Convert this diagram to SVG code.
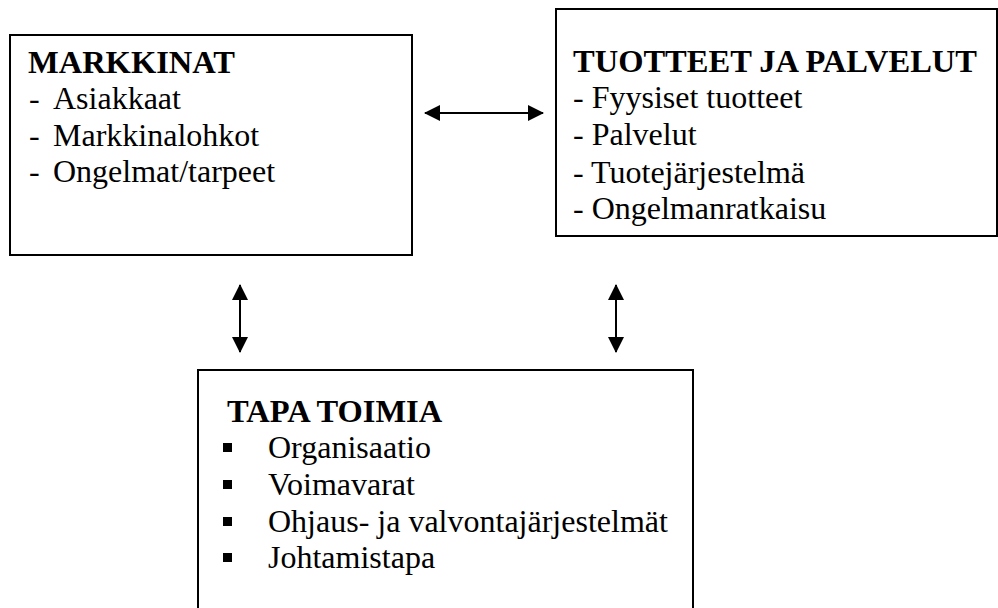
<svg xmlns="http://www.w3.org/2000/svg" width="998" height="608" viewBox="0 0 998 608">
<style>
.box{fill:#fff;stroke:#000;stroke-width:2}
.t{font-family:"Liberation Serif","Times New Roman",serif;font-size:32px;fill:#000}
.h{font-weight:bold;font-size:32.5px}
.c{stroke:#000;stroke-width:2;fill:none;marker-start:url(#ah);marker-end:url(#ah)}
</style>
<defs>
<marker id="ah" viewBox="0 0 16 16" refX="15" refY="8" markerWidth="16" markerHeight="16" markerUnits="userSpaceOnUse" orient="auto-start-reverse">
<path d="M0,0 L16,8 L0,16 Z" fill="#000"/>
</marker>
</defs>
<rect width="998" height="608" fill="#fff"/>
<g id="markkinat">
<rect class="box" x="10" y="35" width="402" height="220"/>
<text class="t h" x="28" y="73">MARKKINAT</text>
<text class="t" x="29" y="109">-<tspan x="53">Asiakkaat</tspan></text>
<text class="t" x="29" y="146">-<tspan x="53">Markkinalohkot</tspan></text>
<text class="t" x="29" y="182">-<tspan x="53">Ongelmat/tarpeet</tspan></text>
</g>
<g id="tuotteet">
<rect class="box" x="556" y="9" width="441" height="227"/>
<text class="t h" x="573" y="72">TUOTTEET JA PALVELUT</text>
<text class="t" x="573" y="108">- Fyysiset tuotteet</text>
<text class="t" x="573" y="145">- Palvelut</text>
<text class="t" x="573" y="183">- Tuotejärjestelmä</text>
<text class="t" x="573" y="219">- Ongelmanratkaisu</text>
</g>
<g id="tapa">
<rect class="box" x="198" y="370" width="495" height="250"/>
<text class="t h" x="227" y="422">TAPA TOIMIA</text>
<rect x="223" y="443" width="9" height="9"/>
<rect x="223" y="480" width="9" height="9"/>
<rect x="223" y="517" width="9" height="9"/>
<rect x="223" y="553" width="9" height="9"/>
<text class="t" x="268" y="458">Organisaatio</text>
<text class="t" x="268" y="495">Voimavarat</text>
<text class="t" x="268" y="532">Ohjaus- ja valvontajärjestelmät</text>
<text class="t" x="268" y="568">Johtamistapa</text>
</g>
<g id="connectors">
<line class="c" x1="425" y1="113" x2="543" y2="113"/>
<line class="c" x1="240" y1="285" x2="240" y2="352"/>
<line class="c" x1="616" y1="285" x2="616" y2="352"/>
</g>
</svg>
